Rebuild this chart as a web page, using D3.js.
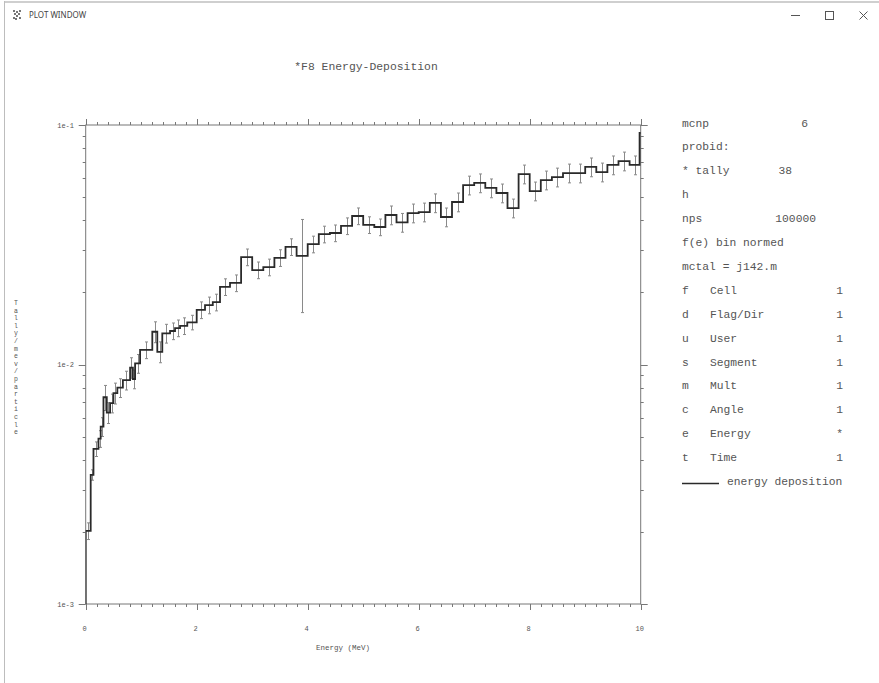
<!DOCTYPE html>
<html>
<head>
<meta charset="utf-8">
<script src="https://cdn.jsdelivr.net/npm/d3@7"></script>
<style>
    body { margin: 0; background: #fff; }
    svg { display: block; }
    text { font-family: "Liberation Mono", "DejaVu Sans Mono", monospace; fill: #555; }
    .chrome { font-family: "Noto Sans", "Open Sans", sans-serif; fill: #444; }
</style>
</head>
<body>
<script>
// bin edges in MeV, one more than the values
var binEdges = [0, 0.09, 0.14, 0.23, 0.27, 0.32, 0.38, 0.44, 0.50, 0.57, 0.67, 0.80, 0.85, 0.89, 0.98,
    1.20, 1.29, 1.38, 1.52, 1.61, 1.70, 1.83, 2.0, 2.15, 2.29, 2.42, 2.6, 2.8,
    3.0, 3.2, 3.4, 3.6, 3.8, 4.0, 4.2, 4.4, 4.6, 4.8, 5.0, 5.2, 5.4, 5.6, 5.8, 6.0,
    6.2, 6.4, 6.6, 6.8, 7.0, 7.2, 7.4, 7.6, 7.8, 8.0, 8.2, 8.4, 8.6, 8.8, 9.0,
    9.2, 9.4, 9.6, 9.8, 9.98, 10.0];

// tally / MeV / particle
var tallyValues = [0.00202, 0.00346, 0.00444, 0.0049, 0.0055, 0.0073, 0.0063, 0.0069, 0.0076, 0.0080,
    0.0086, 0.0097, 0.0087, 0.0101, 0.0115, 0.0137, 0.0113, 0.0135, 0.0138, 0.0142, 0.0145, 0.0150,
    0.0169, 0.0177, 0.0182, 0.0211, 0.0219,
    0.0281, 0.0248, 0.0255, 0.0279, 0.0310, 0.0284, 0.0318, 0.0350, 0.0354, 0.0379,
    0.0417, 0.0383, 0.0375, 0.0421, 0.0392, 0.0429, 0.0433, 0.0473, 0.0413, 0.0477,
    0.0561, 0.0573, 0.0546, 0.0520, 0.0450, 0.0624, 0.0530, 0.0589, 0.0606, 0.0630,
    0.0630, 0.0668, 0.0636, 0.0681, 0.0707, 0.0681, 0.0926];

// relative errors of each bin
var relErrors = [0.08, 0.05, 0.07, 0.08, 0.09, 0.12, 0.10, 0.09, 0.10, 0.09,
    0.09, 0.10, 0.09, 0.09, 0.08, 0.10, 0.10, 0.09, 0.08, 0.08, 0.08, 0.07,
    0.08, 0.08, 0.08, 0.08, 0.08,
    0.08, 0.08, 0.08, 0.08, 0.08, 0.42, 0.08, 0.08, 0.08, 0.08,
    0.08, 0.08, 0.08, 0.09, 0.09, 0.09, 0.09, 0.09, 0.09, 0.09,
    0.09, 0.09, 0.09, 0.09, 0.09, 0.09, 0.09, 0.09, 0.09, 0.09,
    0.09, 0.09, 0.09, 0.09, 0.09, 0.09, 0];

var xTickValues = [0, 2, 4, 6, 8, 10];
var yTickValues = [1e-3, 1e-2, 1e-1];
var yTickLabels = ['1e-3', '1e-2', '1e-1'];

var chartTitle = '*F8 Energy-Deposition';
var xAxisTitle = 'Energy (MeV)';
var yAxisTitle = 'Tally/mev/particle';

// side panel: key, name, value
var infoRows = [
    ['mcnp', '', '6'],
    ['probid:', '', ''],
    ['* tally', '', '38'],
    ['h', '', ''],
    ['nps', '', '100000'],
    ['f(e) bin normed', '', ''],
    ['mctal = j142.m', '', ''],
    ['f', 'Cell', '1'],
    ['d', 'Flag/Dir', '1'],
    ['u', 'User', '1'],
    ['s', 'Segment', '1'],
    ['m', 'Mult', '1'],
    ['c', 'Angle', '1'],
    ['e', 'Energy', '*'],
    ['t', 'Time', '1']
];
var legendLabel = 'energy deposition';

var width = 879, height = 683;
var svg = d3.select('body').append('svg').attr('width', width).attr('height', height);

// window frame
svg.append('rect').attr('x', 4).attr('y', 1).attr('width', width - 4).attr('height', 2).attr('fill', '#cfcfcf');
svg.append('rect').attr('x', 4).attr('y', 1).attr('width', 1).attr('height', height).attr('fill', '#bdbdbd');
var icon = svg.append('g').attr('transform', 'translate(12,10)');
[[1, 0], [4, 1], [7, 0], [2, 3], [6, 3], [4, 5], [1, 7], [7, 7], [3, 8]].forEach(function (p) {
    icon.append('rect').attr('x', p[0]).attr('y', p[1]).attr('width', 2).attr('height', 2).attr('fill', '#777');
});
svg.append('text').attr('class', 'chrome').attr('x', 29).attr('y', 18).style('font-size', '8px').text('PLOT WINDOW');
svg.append('line').attr('x1', 791).attr('x2', 800).attr('y1', 15.5).attr('y2', 15.5).attr('stroke', '#555');
svg.append('rect').attr('x', 825.5).attr('y', 11.5).attr('width', 8).attr('height', 8).attr('fill', 'none').attr('stroke', '#555');
svg.append('path').attr('d', 'M859.5,11.5L867.5,19.5M867.5,11.5L859.5,19.5').attr('stroke', '#555');

// scales
var x = d3.scaleLinear().domain([0, 10]).range([85.7, 640.7]);
var y = d3.scaleLog().domain([1e-3, 1e-1]).range([604, 125]);
var frameColor = '#777';

svg.append('text').attr('x', 366).attr('y', 70).attr('text-anchor', 'middle')
    .style('font-size', '11.4px').text(chartTitle);

// frame
svg.append('rect')
    .attr('x', x(0)).attr('y', y(1e-1))
    .attr('width', x(10) - x(0)).attr('height', y(1e-3) - y(1e-1))
    .attr('fill', 'none').attr('stroke', frameColor).attr('stroke-width', 1);

// x ticks: minor every 0.2, major every 2, top and bottom, outward
var xMinor = d3.range(0, 51).map(function (i) { return i * 0.2; });
var tickG = svg.append('g').attr('stroke', frameColor).attr('stroke-width', 1);
xMinor.forEach(function (v, i) {
    var len = (i % 10 === 0) ? 6 : 3;
    var px = Math.round(x(v)) + 0.5;
    tickG.append('line').attr('x1', px).attr('x2', px).attr('y1', y(1e-3)).attr('y2', y(1e-3) + len);
    tickG.append('line').attr('x1', px).attr('x2', px).attr('y1', y(1e-1)).attr('y2', y(1e-1) - len);
});

// y ticks: log minor, outward on both sides
var yAll = [];
[1e-3, 1e-2].forEach(function (d) {
    for (var k = 1; k < 10; k++) yAll.push({ v: d * k, major: k === 1 });
});
yAll.push({ v: 1e-1, major: true });
yAll.forEach(function (t) {
    var len = t.major ? 7 : 3;
    var py = Math.round(y(t.v)) + 0.5;
    tickG.append('line').attr('x1', x(0)).attr('x2', x(0) - len).attr('y1', py).attr('y2', py);
    tickG.append('line').attr('x1', x(10)).attr('x2', x(10) + len).attr('y1', py).attr('y2', py);
});

// tick labels
svg.append('g').selectAll('text').data(xTickValues).enter().append('text')
    .attr('x', function (d) { return x(d) - 1; })
    .attr('y', 631)
    .attr('text-anchor', 'middle')
    .style('font-size', '7px')
    .text(function (d) { return d; });

svg.append('g').selectAll('text').data(yTickValues).enter().append('text')
    .attr('x', 74)
    .attr('y', function (d) { return y(d) + 2.5; })
    .attr('text-anchor', 'end')
    .style('font-size', '7px')
    .text(function (d, i) { return yTickLabels[i]; });

svg.append('text').attr('x', 343).attr('y', 650).attr('text-anchor', 'middle')
    .style('font-size', '7.5px').text(xAxisTitle);

// y title, letters stacked
svg.append('g').selectAll('text').data(yAxisTitle.split('')).enter().append('text')
    .attr('x', 16)
    .attr('y', function (d, i) { return 305 + i * 7.6; })
    .attr('text-anchor', 'middle')
    .style('font-size', '6.5px')
    .text(function (d) { return d; });

// histogram
svg.append('clipPath').attr('id', 'plotClip').append('rect')
    .attr('x', x(0)).attr('y', y(1e-1) - 2).attr('width', x(10) - x(0) + 1).attr('height', y(1e-3) - y(1e-1) + 2);
var plot = svg.append('g').attr('clip-path', 'url(#plotClip)');

var bins = tallyValues.map(function (v, i) {
    return { lo: binEdges[i], hi: binEdges[i + 1], value: v, err: relErrors[i] };
});

// error bars at bin centers
var errG = plot.append('g').attr('stroke', '#8a8a8a').attr('stroke-width', 1);
bins.filter(function (b) { return b.err > 0; }).forEach(function (b) {
    var cx = Math.round(x((b.lo + b.hi) / 2)) + 0.5;
    var top = y(b.value * (1 + b.err));
    var bot = y(b.value * (1 - b.err));
    errG.append('line').attr('x1', cx).attr('x2', cx).attr('y1', top).attr('y2', bot);
    errG.append('line').attr('x1', cx - 1.5).attr('x2', cx + 1.5).attr('y1', top).attr('y2', top);
    errG.append('line').attr('x1', cx - 1.5).attr('x2', cx + 1.5).attr('y1', bot).attr('y2', bot);
});

var stepPath = d3.path();
stepPath.moveTo(x(bins[0].lo), y(1e-3));
bins.forEach(function (b) {
    stepPath.lineTo(x(b.lo), y(b.value));
    stepPath.lineTo(x(b.hi), y(b.value));
});
plot.append('path')
    .attr('d', stepPath.toString())
    .attr('fill', 'none')
    .attr('stroke', '#2a2a2a')
    .attr('stroke-width', 1.8);

// side panel
var panel = svg.append('g').style('font-size', '11.3px');
infoRows.forEach(function (r, i) {
    var cy = 126.5 + i * 23.9;
    panel.append('text').attr('x', 682).attr('y', cy).text(r[0]);
    if (r[1]) panel.append('text').attr('x', 710).attr('y', cy).text(r[1]);
    if (r[2]) {
        var vx = r[1] ? 843 : (r[0] === 'mcnp' ? 808 : (r[0] === 'nps' ? 816 : 792));
        panel.append('text').attr('x', vx).attr('y', cy).attr('text-anchor', 'end').text(r[2]);
    }
});
var legY = 126.5 + infoRows.length * 23.9;
panel.append('line').attr('x1', 682).attr('x2', 719).attr('y1', legY - 1.5).attr('y2', legY - 1.5)
    .attr('stroke', '#2a2a2a').attr('stroke-width', 1.5);
panel.append('text').attr('x', 727).attr('y', legY).text(legendLabel);
</script>
</body>
</html>
